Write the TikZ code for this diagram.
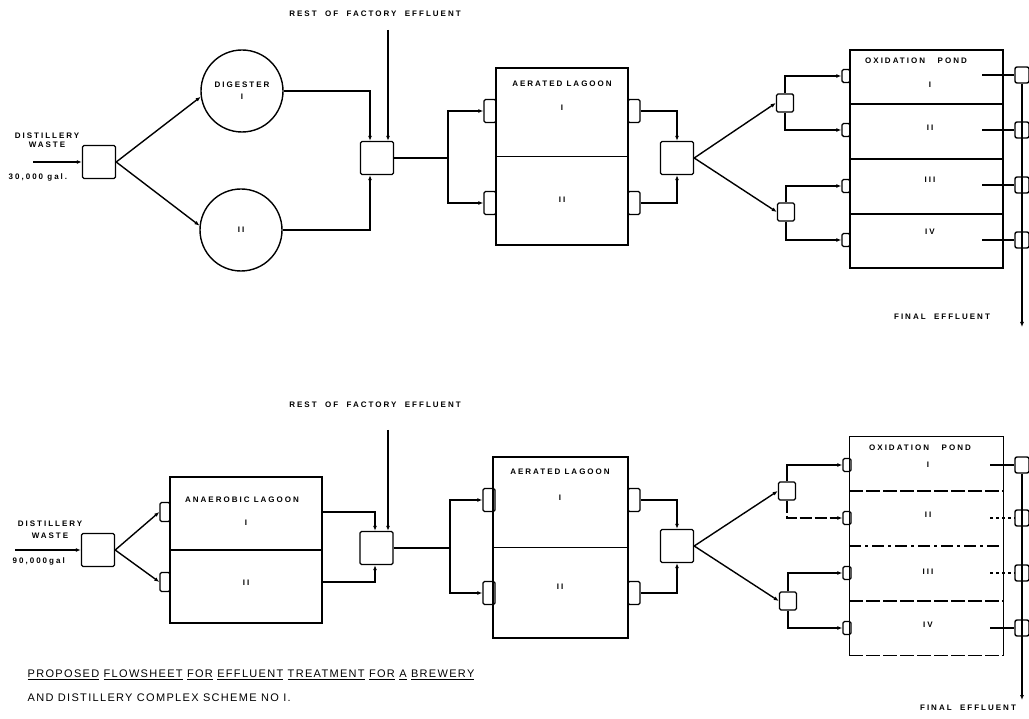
\documentclass[tikz,border=0pt]{standalone}
\usepackage{fontspec}
\setmainfont{Liberation Sans}
\newfontfamily\lblfont[LetterSpace=25]{Liberation Sans}
\newfontfamily\capfont[LetterSpace=12]{Liberation Sans}
\usetikzlibrary{arrows.meta,calc}

\begin{document}
\begin{tikzpicture}[x=1pt,y=-1pt,line width=1.4pt,
  flow/.style={-{Latex[length=5pt,width=4pt]}},
  mixbox/.style={draw,rounded corners=1.5pt,minimum width=33pt,minimum height=33pt,inner sep=0pt},
  inbox/.style={draw,rounded corners=1.5pt,minimum width=12pt,minimum height=23pt,inner sep=0pt},
  ainbox/.style={draw,rounded corners=1.5pt,minimum width=10pt,minimum height=19pt,inner sep=0pt},
  pinbox/.style={draw,rounded corners=1.5pt,minimum width=8pt,minimum height=13pt,inner sep=0pt},
  outbox/.style={draw,rounded corners=2pt,minimum width=14pt,minimum height=16pt,inner sep=0pt},
  distbox/.style={draw,rounded corners=1.5pt,minimum width=17pt,minimum height=18pt,inner sep=0pt},
  tank/.style={draw,circle,minimum size=82pt,inner sep=0pt},
  basin/.style={draw,inner sep=0pt},
  lbl/.style={font=\lblfont\bfseries\fontsize{8}{9}\selectfont,inner sep=0pt,align=center},
  captxt/.style={font=\capfont\fontsize{11}{13}\selectfont,inner sep=0pt,anchor=west}]
\useasboundingbox (0,0) rectangle (1029,719);

% scheme with digesters
\node[lbl] (rest1) at (375,14) {REST\ \ OF\ \ FACTORY\ \ EFFLUENT};
\node[lbl] (dw1) at (47,140) {DISTILLERY\\WASTE};
\node[lbl,anchor=west] (gal1) at (8,177) {30,000 gal.};
\coordinate (in1) at (33,162);
\node[mixbox] (m1) at (99,162) {};
\draw[flow] (in1) -- (m1.west);

\node[tank,lbl] (dig1) at (242,91) {DIGESTER\\[3pt]I};
\node[tank,lbl] (dig2) at (241,230) {II};
\draw[flow] (m1.east) -- (dig1.188);
\draw[flow] (m1.east) -- (dig2.174);

\node[mixbox] (m2) at (377,158) {};
\coordinate (fac1) at (388,30);
\draw[flow] (dig1.east) -| ([xshift=-7pt]m2.north);
\draw[flow] (dig2.east) -| ([xshift=-7pt]m2.south);
\draw[flow] (fac1) -- (fac1 |- m2.north);

\node[basin,minimum width=132pt,minimum height=177pt] (lag1) at (562,156.5) {};
\draw (lag1.west) -- (lag1.east);
\node[lbl] (lag1t) at (562,84) {AERATED LAGOON};
\node[lbl] (lag1a) at (562,108) {I};
\node[lbl] (lag1b) at (562,200) {II};
\node[inbox] (li1) at (490,111) {};
\node[inbox] (li2) at (490,203) {};
\node[inbox] (lo1) at (634,111) {};
\node[inbox] (lo2) at (634,203) {};
\coordinate (br1) at (448,158);
\draw (m2.east) -- (br1);
\draw[flow] (br1) |- (li1.west);
\draw[flow] (br1) |- (li2.west);

\node[mixbox] (m3) at (677,158) {};
\draw[flow] (lo1.east) -| (m3.north);
\draw[flow] (lo2.east) -| (m3.south);

\node[distbox] (dA1) at (785,103) {};
\node[distbox] (dB1) at (786,212) {};
\draw[flow] (m3.east) -- (dA1.west);
\draw[flow] (m3.east) -- (dB1.west);

\node[basin,minimum width=153pt,minimum height=218pt] (pond1) at (926.5,159) {};
\foreach \f in {0.25,0.5,0.75}
  \draw ($(pond1.north west)!\f!(pond1.south west)$) -- ($(pond1.north east)!\f!(pond1.south east)$);
\node[lbl] (pond1t) at (916,61) {OXIDATION\ \ \ POND};
\node[lbl] (pond1a) at (930,85) {I};
\node[lbl] (pond1b) at (930,128) {II};
\node[lbl] (pond1c) at (930,180) {III};
\node[lbl] (pond1d) at (930,232) {IV};
\foreach \i/\y in {1/76,2/130,3/186,4/240}
  \node[pinbox] (pa\i) at (846,\y) {};
\draw[flow] (dA1.north) |- (pa1.west);
\draw[flow] (dA1.south) |- (pa2.west);
\draw[flow] (dB1.north) |- (pa3.west);
\draw[flow] (dB1.south) |- (pa4.west);

\foreach \i/\y in {1/75,2/130,3/185,4/240} {
  \node[outbox] (po\i) at (1022,\y) {};
  \coordinate (pc\i) at (982,\y);
  \draw (pc\i) -- (po\i.west);
}
\coordinate (fin1) at (1022,327);
\draw[flow] (po1.south) -- (fin1);
\node[lbl] (fe1) at (942,317) {FINAL\ \ EFFLUENT};

% scheme with anaerobic lagoon
\node[lbl] (rest2) at (375,405) {REST\ \ OF\ \ FACTORY\ \ EFFLUENT};
\node[lbl] (dw2) at (50,530) {DISTILLERY\\[3pt]WASTE};
\node[lbl,anchor=west] (gal2) at (12,561) {90,000gal};
\coordinate (in2) at (15,550);
\node[mixbox] (m1b) at (98,550) {};
\draw[flow] (in2) -- (m1b.west);

\node[basin,minimum width=152pt,minimum height=146pt] (anl) at (246,550) {};
\draw (anl.west) -- (anl.east);
\node[lbl] (anlt) at (242,500) {ANAEROBIC LAGOON};
\node[lbl] (anla) at (246,523) {I};
\node[lbl] (anlb) at (246,583) {II};
\node[ainbox] (ai1) at (165,512) {};
\node[ainbox] (ai2) at (165,582) {};
\draw[flow] (m1b.east) -- (ai1.west);
\draw[flow] (m1b.east) -- (ai2.west);

\node[mixbox] (m2b) at (376.5,548) {};
\coordinate (ao1) at (322,512);
\coordinate (ao2) at (322,582);
\coordinate (fac2) at (388,430);
\draw[flow] (ao1) -| ([xshift=-1.5pt]m2b.north);
\draw[flow] (ao2) -| ([xshift=-1.5pt]m2b.south);
\draw[flow] (fac2) -- (fac2 |- m2b.north);

\node[basin,minimum width=135pt,minimum height=181pt] (lag2) at (560.5,547.5) {};
\draw (lag2.west) -- (lag2.east);
\node[lbl] (lag2t) at (560,472) {AERATED LAGOON};
\node[lbl] (lag2a) at (560,498) {I};
\node[lbl] (lag2b) at (560,587) {II};
\node[inbox] (li3) at (489,500) {};
\node[inbox] (li4) at (489,593) {};
\node[inbox] (lo3) at (634,500) {};
\node[inbox] (lo4) at (634,593) {};
\coordinate (br2) at (450,548);
\draw (m2b.east) -- (br2);
\draw[flow] (br2) |- (li3.west);
\draw[flow] (br2) |- (li4.west);

\node[mixbox] (m3b) at (677,546) {};
\draw[flow] (lo3.east) -| (m3b.north);
\draw[flow] (lo4.east) -| (m3b.south);

\node[distbox] (dA2) at (787,491) {};
\node[distbox] (dB2) at (788,601) {};
\draw[flow] (m3b.east) -- (dA2.west);
\draw[flow] (m3b.east) -- (dB2.west);

\node[inner sep=0pt,minimum width=153pt,minimum height=218pt] (pond2) at (926.5,546) {};
\draw (pond2.south west) -- (pond2.north west) -- (pond2.north east) -- (pond2.south east);
\draw[dash pattern=on 14pt off 3pt] (pond2.south west) -- (pond2.south east);
\draw[dash pattern=on 14pt off 3pt] ($(pond2.north west)!0.25!(pond2.south west)$) -- ($(pond2.north east)!0.25!(pond2.south east)$);
\draw[dash pattern=on 12pt off 4pt on 3pt off 4pt] ($(pond2.north west)!0.5!(pond2.south west)$) -- ($(pond2.north east)!0.5!(pond2.south east)$);
\draw[dash pattern=on 14pt off 3pt] ($(pond2.north west)!0.75!(pond2.south west)$) -- ($(pond2.north east)!0.75!(pond2.south east)$);
\node[lbl] (pond2t) at (920,448) {OXIDATION\ \ \ POND};
\node[lbl] (pond2a) at (928,465) {I};
\node[lbl] (pond2b) at (928,515) {II};
\node[lbl] (pond2c) at (928,572) {III};
\node[lbl] (pond2d) at (928,625) {IV};
\foreach \i/\y in {1/465,2/518,3/573,4/628}
  \node[pinbox] (pb\i) at (847,\y) {};
\draw[flow] (dA2.north) |- (pb1.west);
\draw[flow,dash pattern=on 12pt off 3pt] (dA2.south) |- (pb2.west);
\draw[flow] (dB2.north) |- (pb3.west);
\draw[flow] (dB2.south) |- (pb4.west);

\foreach \i/\y/\ls in {1/465/solid,2/518/dashed,3/573/dashed,4/628/solid} {
  \node[outbox] (pq\i) at (1022,\y) {};
  \coordinate (pd\i) at (990,\y);
  \draw[\ls] (pd\i) -- (pq\i.west);
}
\coordinate (fin2) at (1022,700);
\draw[flow] (pq1.south) -- (fin2);
\node[lbl] (fe2) at (968,708) {FINAL\ \ EFFLUENT};

% caption
\node[captxt] (cap1) at (27,675) {\underline{PROPOSED} \underline{FLOWSHEET} \underline{FOR} \underline{EFFLUENT} \underline{TREATMENT} \underline{FOR} \underline{A} \underline{BREWERY}};
\node[captxt] (cap2) at (27,698) {AND DISTILLERY COMPLEX SCHEME NO I.};
\end{tikzpicture}
\end{document}
